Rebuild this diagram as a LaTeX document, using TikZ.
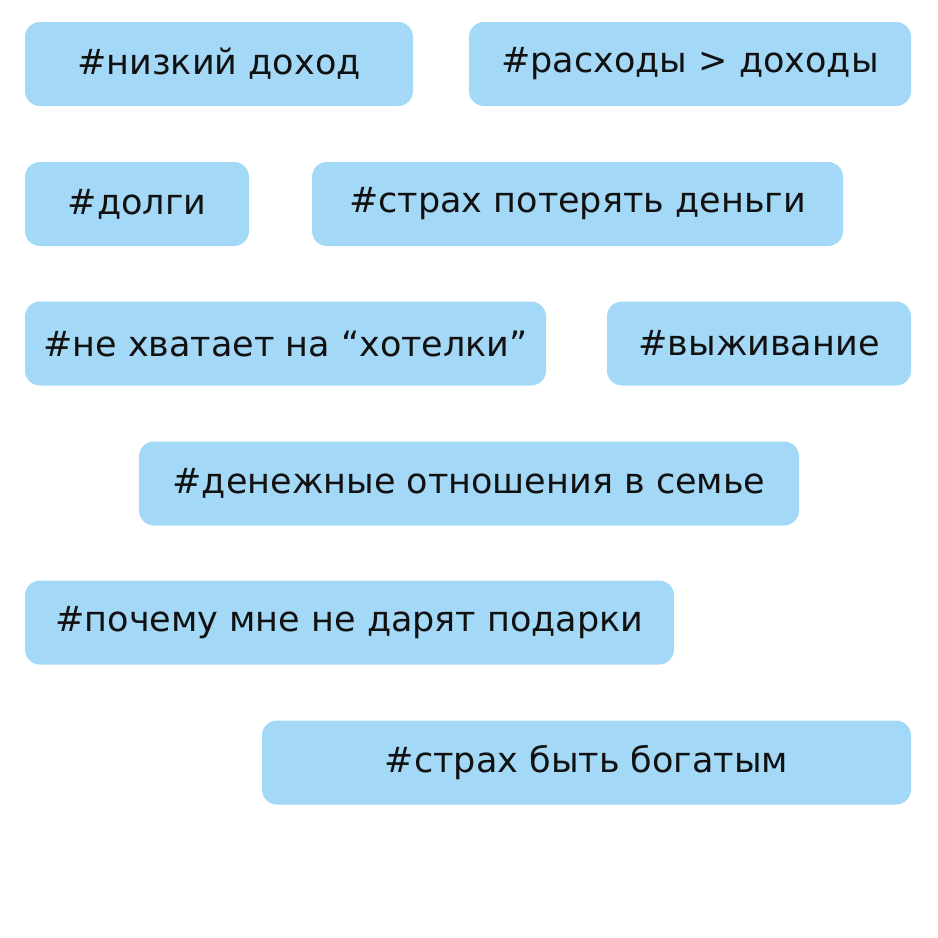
\documentclass[tikz,border=0pt]{standalone}
\usepackage{fontspec}
\setmainfont{DejaVu Sans}
\definecolor{tagblue}{HTML}{A3D8F6}
\definecolor{tagtext}{HTML}{111111}
\begin{document}
\begin{tikzpicture}[x=1pt,y=-1pt,line join=round,
	tag/.style={fill=tagblue,rounded corners=15pt,minimum height=84pt,inner sep=0pt,text=tagtext,font=\fontsize{35}{42}\selectfont}]
	\useasboundingbox (0,0) rectangle (938,938);
	\node[tag,minimum width=388pt] (doxod) at (219,64) {\#низкий доход};
	\node[tag,minimum width=442pt] (rasxody) at (690,64) {\#расходы > доходы};
	\node[tag,minimum width=224pt] (dolgi) at (137,204) {\#долги};
	\node[tag,minimum width=531pt] (strax) at (577.5,204) {\#страх потерять деньги};
	\node[tag,minimum width=521pt] (xotelki) at (285.5,343.5) {\#не хватает на “хотелки”};
	\node[tag,minimum width=304pt] (vyzhivanie) at (759,343.5) {\#выживание};
	\node[tag,minimum width=660pt] (semja) at (469,483.5) {\#денежные отношения в семье};
	\node[tag,minimum width=649pt] (podarki) at (349.5,622.5) {\#почему мне не дарят подарки};
	\node[tag,minimum width=649pt] (bogatstvo) at (586.5,762.5) {\#страх быть богатым};
\end{tikzpicture}
\end{document}
